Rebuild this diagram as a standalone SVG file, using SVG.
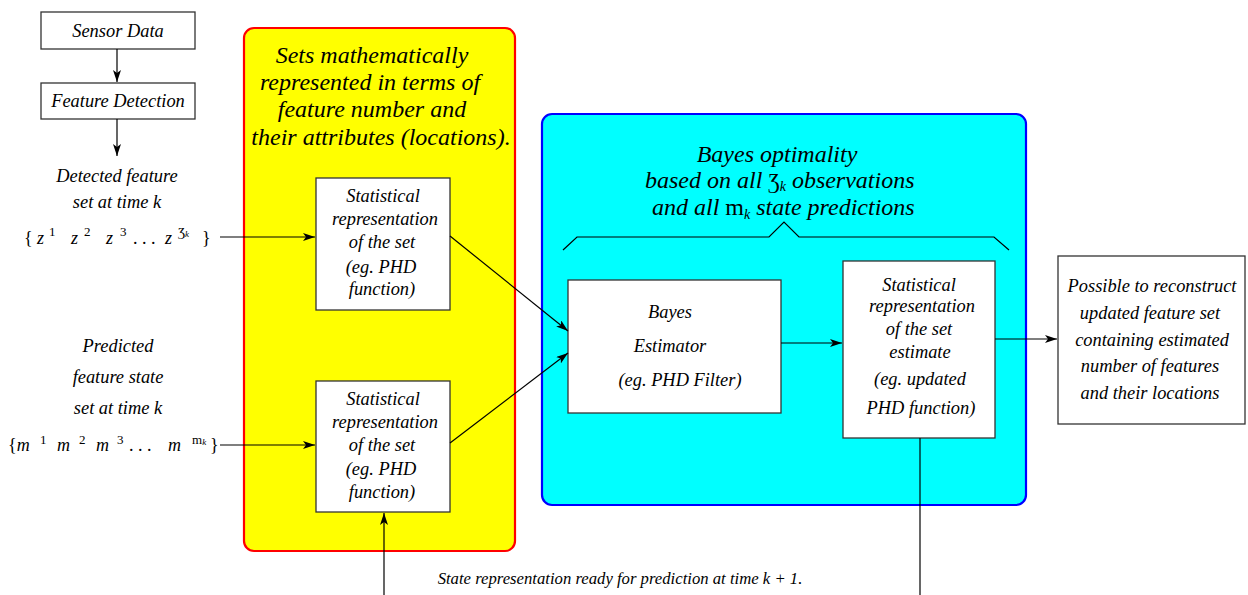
<svg xmlns="http://www.w3.org/2000/svg" width="1248" height="595" viewBox="0 0 1248 595">
<defs>
<marker id="ah" viewBox="0 0 12 8" refX="12" refY="4" markerWidth="12" markerHeight="8" markerUnits="userSpaceOnUse" orient="auto">
<path d="M0,0 L12,4 L0,8 L3,4 Z" fill="#000"/>
</marker>
</defs>
<style>
text{font-family:"Liberation Serif","Times New Roman",serif;font-style:italic;fill:#000}
.s{font-size:18.4px}
.t{font-size:24px}
.c{text-anchor:middle}
.box{fill:#fff;stroke:#333;stroke-width:1.3}
.ln{stroke:#000;stroke-width:1.2;fill:none}
.m{font-size:18px}
.sup{font-size:13px;font-style:normal}
.up{font-style:normal}
</style>
<rect width="1248" height="595" fill="#fff"/>

<g id="yellow-panel">
<rect x="244" y="28" width="271" height="523" rx="10" fill="#ffff00" stroke="#ff0000" stroke-width="2.2"/>
<text class="t c" x="372" y="63">Sets mathematically</text>
<text class="t c" x="370" y="90">represented in terms of</text>
<text class="t c" x="372" y="117">feature number and</text>
<text class="t c" x="381" y="145">their attributes (locations).</text>
</g>

<g id="cyan-panel">
<rect x="542" y="114" width="484" height="391" rx="10" fill="#00ffff" stroke="#0000ff" stroke-width="2.2"/>
<text class="t c" x="777" y="162">Bayes optimality</text>
<text class="t" x="645" y="188">based on all <tspan class="up" font-size="21">Ʒ</tspan><tspan font-size="14" dy="3">k</tspan><tspan dy="-3"> observations</tspan></text>
<text class="t" x="652" y="215">and all <tspan class="up">m</tspan><tspan font-size="14" dy="4">k</tspan><tspan dy="-4"> state predictions</tspan></text>
<path class="ln" d="M563,250 L577,237 L769,237 L784,222 L799,237 L994,237 L1009,250"/>
</g>

<g id="sensor-data">
<rect class="box" x="41" y="12" width="154" height="37"/>
<text class="s c" x="118" y="37">Sensor Data</text>
</g>

<g id="feature-detection">
<rect class="box" x="41" y="83" width="154" height="36"/>
<text class="s c" x="118" y="107">Feature Detection</text>
</g>

<g id="detected-set">
<text class="s c" x="117" y="182">Detected feature</text>
<text class="s c" x="117" y="208">set at time k</text>
<text class="m" x="24" y="244"><tspan class="up">{</tspan></text>
<text class="m" x="37" y="244">z</text><text class="sup" x="49" y="236">1</text>
<text class="m" x="71" y="244">z</text><text class="sup" x="84" y="236">2</text>
<text class="m" x="106" y="244">z</text><text class="sup" x="120" y="236">3</text>
<text class="m" x="133" y="244"><tspan class="up">.  .  .</tspan></text>
<text class="m" x="165" y="244">z</text><text class="sup" x="178" y="236">Ʒ<tspan font-size="9" font-style="italic" dy="1">k</tspan></text>
<text class="m" x="202" y="244"><tspan class="up">}</tspan></text>
</g>

<g id="predicted-set">
<text class="s c" x="118" y="352">Predicted</text>
<text class="s c" x="118" y="383">feature state</text>
<text class="s c" x="118" y="414">set at time k</text>
<text class="m" x="8" y="451"><tspan class="up">{</tspan>m</text><text class="sup" x="40" y="444">1</text>
<text class="m" x="57" y="451">m</text><text class="sup" x="79" y="444">2</text>
<text class="m" x="96" y="451">m</text><text class="sup" x="117" y="444">3</text>
<text class="m" x="129" y="451"><tspan class="up">.  .  .</tspan></text>
<text class="m" x="168" y="451">m</text><text class="sup" x="192" y="444">m<tspan font-size="9" font-style="italic" dy="1">k</tspan></text>
<text class="m" x="210" y="451"><tspan class="up">}</tspan></text>
</g>

<g id="stat-rep-1">
<rect class="box" x="316" y="178" width="134" height="132"/>
<text class="s c" x="383" y="202">Statistical</text>
<text class="s c" x="385" y="225">representation</text>
<text class="s c" x="382" y="248">of the set</text>
<text class="s c" x="381" y="273">(eg. PHD</text>
<text class="s c" x="382" y="295">function)</text>
</g>

<g id="stat-rep-2">
<rect class="box" x="316" y="381" width="134" height="131"/>
<text class="s c" x="383" y="405">Statistical</text>
<text class="s c" x="385" y="428">representation</text>
<text class="s c" x="382" y="451">of the set</text>
<text class="s c" x="381" y="475">(eg. PHD</text>
<text class="s c" x="382" y="498">function)</text>
</g>

<g id="bayes-estimator">
<rect class="box" x="568" y="280" width="213" height="133"/>
<text class="s c" x="670" y="318">Bayes</text>
<text class="s c" x="670" y="352">Estimator</text>
<text class="s c" x="680" y="386">(eg. PHD Filter)</text>
</g>

<g id="stat-rep-estimate">
<rect class="box" x="843" y="261" width="152" height="177"/>
<text class="s c" x="919" y="291">Statistical</text>
<text class="s c" x="922" y="312">representation</text>
<text class="s c" x="919" y="335">of the set</text>
<text class="s c" x="920" y="358">estimate</text>
<text class="s c" x="920" y="385">(eg. updated</text>
<text class="s c" x="921" y="414">PHD function)</text>
</g>

<g id="output">
<rect class="box" x="1058" y="256" width="187" height="168"/>
<text class="s c" x="1152" y="292">Possible to reconstruct</text>
<text class="s c" x="1150" y="319">updated feature set</text>
<text class="s c" x="1152" y="346">containing estimated</text>
<text class="s c" x="1150" y="372">number of features</text>
<text class="s c" x="1150" y="399">and their locations</text>
</g>

<text id="feedback-label" x="620" y="584" style="font-size:16.7px" text-anchor="middle">State representation ready for prediction at time k + 1.</text>

<g id="connectors">
<line class="ln" x1="117" y1="49" x2="117" y2="82" marker-end="url(#ah)"/>
<line class="ln" x1="117" y1="119" x2="117" y2="156" marker-end="url(#ah)"/>
<line class="ln" x1="220" y1="237" x2="315" y2="237" marker-end="url(#ah)"/>
<line class="ln" x1="220" y1="445" x2="315" y2="445" marker-end="url(#ah)"/>
<line class="ln" x1="450" y1="236" x2="568" y2="331" marker-end="url(#ah)"/>
<line class="ln" x1="450" y1="443" x2="568" y2="353" marker-end="url(#ah)"/>
<line class="ln" x1="781" y1="343" x2="842" y2="343" marker-end="url(#ah)"/>
<line class="ln" x1="995" y1="339" x2="1057" y2="339" marker-end="url(#ah)"/>
<line class="ln" x1="920" y1="438" x2="920" y2="595"/>
<line class="ln" x1="384" y1="595" x2="384" y2="513" marker-end="url(#ah)"/>
</g>
</svg>
